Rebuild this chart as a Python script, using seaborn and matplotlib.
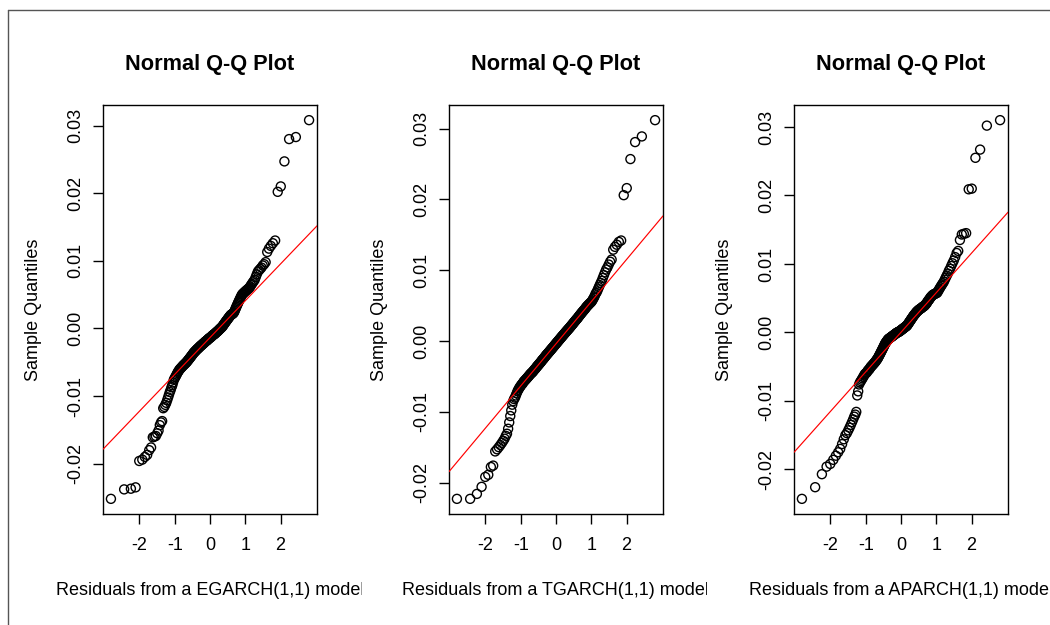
import numpy as np
import pandas as pd
import matplotlib
matplotlib.use("Agg")
import matplotlib.pyplot as plt
import seaborn as sns
from matplotlib.lines import Line2D
from matplotlib.transforms import Bbox, TransformedBbox
from matplotlib.ticker import FormatStrFormatter
from statistics import NormalDist

# ======================================
# DATA (sorted residuals, units of 1e-3)
# ======================================

egarch_resid = [
    -25.2, -23.8, -23.7, -23.5, -19.6, -19.4, -19.0, -18.7, -18.0, -17.6,
    -16.1, -16.0, -15.9, -15.5, -15.1, -14.3, -13.9, -13.7, -11.8, -11.6,
    -11.3, -11.0, -10.6, -10.2, -9.8, -9.4, -9.1, -8.7, -8.4, -8.0,
    -7.6, -7.4, -7.2, -7.0, -6.8, -6.6, -6.4, -6.3, -6.1, -6.0,
    -5.9, -5.8, -5.7, -5.6, -5.5, -5.4, -5.35, -5.25, -5.15, -5.1,
    -5.0, -4.9, -4.8, -4.7, -4.6, -4.5, -4.4, -4.3, -4.2, -4.1,
    -4.0, -3.9, -3.8, -3.7, -3.6, -3.5, -3.45, -3.4, -3.3, -3.2,
    -3.15, -3.1, -3.0, -2.95, -2.9, -2.8, -2.75, -2.7, -2.6, -2.55,
    -2.5, -2.45, -2.4, -2.3, -2.25, -2.2, -2.15, -2.1, -2.0, -1.95,
    -1.9, -1.85, -1.8, -1.75, -1.7, -1.6, -1.55, -1.5, -1.45, -1.4,
    -1.35, -1.3, -1.25, -1.2, -1.1, -1.05, -1.0, -0.95, -0.9, -0.85,
    -0.8, -0.75, -0.7, -0.6, -0.55, -0.5, -0.45, -0.4, -0.3, -0.25,
    -0.2, -0.1, -0.05, 0.0, 0.1, 0.15, 0.2, 0.3, 0.4, 0.5,
    0.6, 0.7, 0.8, 0.9, 1.0, 1.1, 1.2, 1.3, 1.4, 1.5,
    1.6, 1.7, 1.8, 1.9, 2.0, 2.05, 2.1, 2.15, 2.2, 2.3,
    2.4, 2.6, 2.8, 3.0, 3.2, 3.4, 3.6, 3.8, 4.0, 4.2,
    4.4, 4.6, 4.8, 5.0, 5.1, 5.2, 5.3, 5.4, 5.5, 5.6,
    5.7, 5.8, 5.9, 6.0, 6.2, 6.4, 6.6, 6.8, 7.0, 7.2,
    7.6, 8.0, 8.4, 8.6, 8.8, 9.0, 9.3, 9.5, 9.8, 11.3,
    11.8, 12.2, 12.6, 13.0, 20.2, 21.0, 24.7, 28.0, 28.3, 30.8,
]

tgarch_resid = [
    -22.3, -22.3, -21.6, -20.6, -19.2, -18.9, -17.8, -17.6, -15.6, -15.3,
    -15.0, -14.7, -14.4, -14.1, -13.8, -13.4, -13.1, -12.4, -11.5, -10.6,
    -9.8, -9.0, -8.5, -8.2, -8.0, -7.7, -7.4, -7.1, -6.9, -6.7,
    -6.5, -6.4, -6.2, -6.1, -6.0, -5.8, -5.7, -5.6, -5.5, -5.4,
    -5.3, -5.2, -5.1, -5.0, -4.9, -4.8, -4.7, -4.6, -4.55, -4.45,
    -4.4, -4.3, -4.2, -4.1, -4.0, -3.95, -3.85, -3.75, -3.65, -3.55,
    -3.5, -3.4, -3.3, -3.25, -3.15, -3.05, -3.0, -2.9, -2.8, -2.7,
    -2.65, -2.55, -2.5, -2.4, -2.3, -2.25, -2.15, -2.05, -2.0, -1.9,
    -1.85, -1.75, -1.7, -1.6, -1.55, -1.45, -1.4, -1.3, -1.25, -1.15,
    -1.1, -1.0, -0.95, -0.85, -0.8, -0.7, -0.65, -0.55, -0.5, -0.4,
    -0.35, -0.25, -0.2, -0.1, -0.05, 0.05, 0.1, 0.2, 0.25, 0.35,
    0.4, 0.5, 0.55, 0.65, 0.7, 0.8, 0.85, 0.95, 1.0, 1.1,
    1.15, 1.25, 1.3, 1.4, 1.45, 1.55, 1.6, 1.7, 1.75, 1.85,
    1.9, 2.0, 2.1, 2.15, 2.25, 2.35, 2.4, 2.5, 2.6, 2.7,
    2.75, 2.85, 2.95, 3.05, 3.1, 3.2, 3.3, 3.4, 3.5, 3.6,
    3.7, 3.8, 3.9, 4.0, 4.1, 4.2, 4.3, 4.4, 4.5, 4.6,
    4.75, 4.85, 4.95, 5.05, 5.15, 5.25, 5.35, 5.45, 5.55, 5.7,
    5.9, 6.1, 6.3, 6.6, 6.8, 7.0, 7.3, 7.6, 7.9, 8.2,
    8.5, 8.9, 9.3, 9.7, 10.1, 10.4, 10.8, 11.2, 11.5, 12.9,
    13.3, 13.6, 14.0, 14.2, 20.6, 21.6, 25.7, 28.1, 28.9, 31.2,
]

aparch_resid = [
    -24.3, -22.6, -20.7, -19.6, -19.2, -18.6, -18.0, -17.5, -17.0, -16.3,
    -15.6, -15.0, -14.7, -14.3, -13.9, -13.5, -13.1, -12.7, -12.3, -12.0,
    -11.6, -9.2, -8.6, -7.6, -7.3, -7.1, -6.9, -6.7, -6.5, -6.3,
    -6.1, -6.0, -5.9, -5.8, -5.6, -5.5, -5.4, -5.3, -5.1, -5.0,
    -4.9, -4.8, -4.7, -4.6, -4.5, -4.4, -4.3, -4.2, -4.05, -3.95,
    -3.85, -3.7, -3.55, -3.4, -3.25, -3.1, -2.95, -2.8, -2.65, -2.5,
    -2.35, -2.2, -2.05, -1.9, -1.75, -1.6, -1.5, -1.4, -1.3, -1.2,
    -1.1, -1.0, -0.95, -0.9, -0.85, -0.8, -0.75, -0.7, -0.65, -0.6,
    -0.55, -0.5, -0.45, -0.4, -0.35, -0.3, -0.25, -0.2, -0.15, -0.1,
    -0.05, 0.0, 0.0, 0.05, 0.1, 0.1, 0.15, 0.2, 0.25, 0.3,
    0.35, 0.4, 0.45, 0.5, 0.55, 0.6, 0.65, 0.7, 0.75, 0.8,
    0.85, 0.9, 0.95, 1.0, 1.1, 1.2, 1.3, 1.4, 1.5, 1.6,
    1.7, 1.8, 1.9, 2.0, 2.1, 2.2, 2.3, 2.4, 2.5, 2.6,
    2.65, 2.75, 2.85, 2.95, 3.0, 3.1, 3.15, 3.2, 3.3, 3.35,
    3.4, 3.45, 3.5, 3.55, 3.6, 3.7, 3.75, 3.8, 3.85, 3.9,
    4.0, 4.1, 4.2, 4.3, 4.45, 4.6, 4.7, 4.8, 4.95, 5.1,
    5.2, 5.3, 5.4, 5.5, 5.55, 5.6, 5.65, 5.7, 5.75, 5.8,
    6.0, 6.2, 6.4, 6.6, 6.8, 7.0, 7.2, 7.4, 7.7, 8.0,
    8.3, 8.6, 9.0, 9.3, 9.7, 10.1, 10.5, 11.0, 11.6, 11.9,
    13.5, 14.3, 14.4, 14.5, 20.9, 21.0, 25.5, 26.7, 30.2, 31.0,
]

model_names = ["EGARCH(1,1)", "TGARCH(1,1)", "APARCH(1,1)"]
x_ticks = [-2, -1, 0, 1, 2]
y_ticks = [-0.02, -0.01, 0.00, 0.01, 0.02, 0.03]

# ======================================
# STYLE
# ======================================

sns.set_style("ticks")
plt.rcParams["font.family"] = ["Liberation Sans", "DejaVu Sans"]
plt.rcParams["axes.unicode_minus"] = False
plt.rcParams["text.color"] = "black"
plt.rcParams["axes.labelcolor"] = "black"


def qq_frame(resid):
    # R qqnorm: ppoints + normal quantiles
    y = np.sort(np.asarray(resid, dtype=float)) / 1000
    n = len(y)
    a = 3 / 8 if n <= 10 else 0.5
    p = (np.arange(1, n + 1) - a) / (n + 1 - 2 * a)
    x = np.array([NormalDist().inv_cdf(v) for v in p])
    return pd.DataFrame({"theoretical": x, "sample": y})


W, H = 1050, 625
fig = plt.figure(figsize=(W / 100, H / 100), dpi=100)

lefts = [103, 449, 794]
region_left = [17, 362, 707]
region_w = 345

for k, resid in enumerate([egarch_resid, tgarch_resid, aparch_resid]):

    df = qq_frame(resid)

    ax = fig.add_axes([lefts[k] / W, 1 - 514 / H, 214 / W, 409 / H])

    sns.scatterplot(
        data=df, x="theoretical", y="sample", ax=ax,
        marker="o", s=42, facecolor="none", edgecolor="black",
        linewidth=1.0, zorder=3
    )

    # qqline through the quartiles
    yq = np.quantile(df["sample"], [0.25, 0.75])
    xq = np.array([NormalDist().inv_cdf(0.25), NormalDist().inv_cdf(0.75)])
    slope = (yq[1] - yq[0]) / (xq[1] - xq[0])
    inter = yq[0] - slope * xq[0]
    ax.axline((0, inter), slope=slope, color="red", lw=0.85, zorder=4)

    # R style limits (4% extension)
    xr = df["theoretical"].max() - df["theoretical"].min()
    yr = df["sample"].max() - df["sample"].min()
    ax.set_xlim(df["theoretical"].min() - 0.04 * xr, df["theoretical"].max() + 0.04 * xr)
    ax.set_ylim(df["sample"].min() - 0.04 * yr, df["sample"].max() + 0.04 * yr)

    ax.set_xticks(x_ticks)
    ax.set_yticks(y_ticks)
    ax.yaxis.set_major_formatter(FormatStrFormatter("%.2f"))

    for sp in ax.spines.values():
        sp.set_color("black")
        sp.set_linewidth(1.0)

    ax.tick_params(axis="both", direction="out", length=7.2, width=1.0,
                   color="black", labelsize=13, labelcolor="black")
    ax.tick_params(axis="x", pad=9)
    ax.tick_params(axis="y", pad=6.5)
    for lab in ax.get_yticklabels():
        lab.set_rotation(90)
        lab.set_va("center")

    ax.set_title("Normal Q-Q Plot", fontsize=15.7, fontweight="bold",
                 color="black", y=1.1, va="center", pad=0)

    ax.set_ylabel("Sample Quantiles", fontsize=13, color="black")
    ax.yaxis.set_label_coords(-0.327, 0.5)
    ax.yaxis.label.set_va("center")

    ax.set_xlabel(f"Residuals from a {model_names[k]} model", fontsize=13,
                  color="black")
    ax.xaxis.set_label_coords(0.5, -0.186)
    ax.xaxis.label.set_va("center")
    clip = TransformedBbox(
        Bbox([[region_left[k] / W, 0], [(region_left[k] + region_w) / W, 1]]),
        fig.transFigure
    )
    ax.xaxis.label.set_clip_box(clip)
    ax.xaxis.label.set_clip_on(True)

# screenshot frame (top and left edges)
fig.add_artist(Line2D([8 / W, 1], [1 - 10 / H, 1 - 10 / H],
                      transform=fig.transFigure, color="#555555", lw=1))
fig.add_artist(Line2D([8 / W, 8 / W], [0, 1 - 10 / H],
                      transform=fig.transFigure, color="#555555", lw=1))

fig.savefig("out.png", dpi=100, facecolor="white")
